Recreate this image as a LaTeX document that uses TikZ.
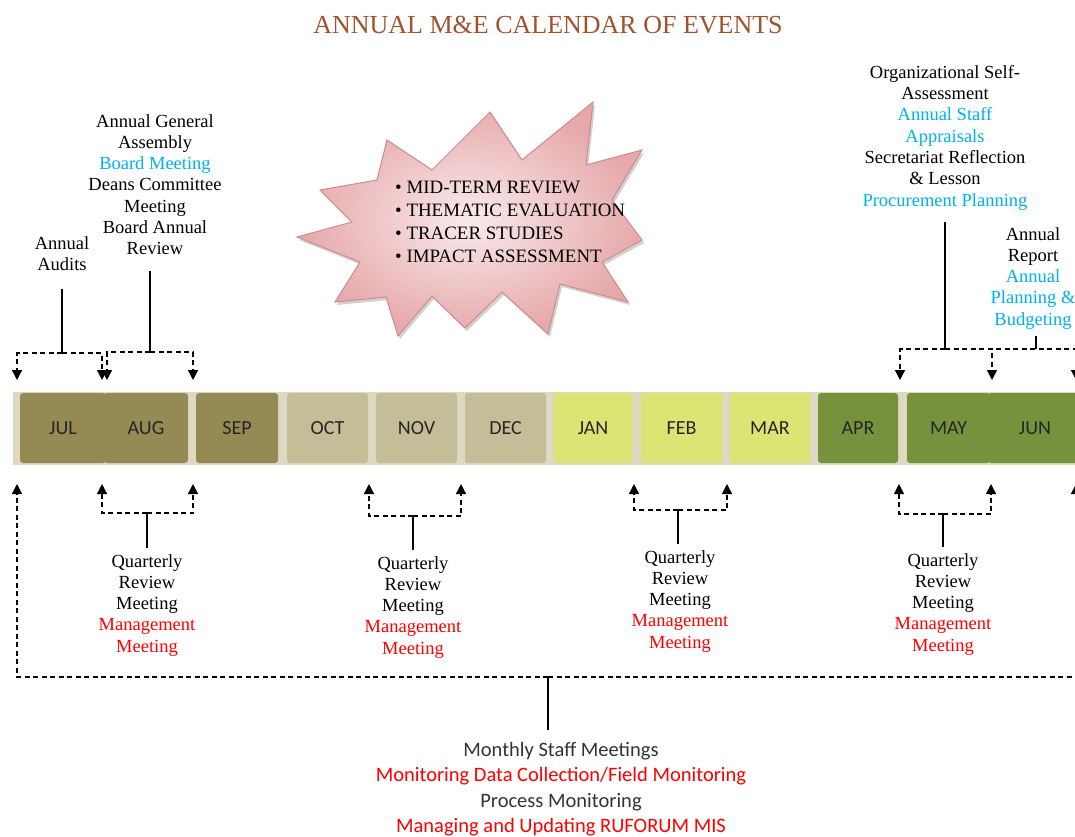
\documentclass[tikz,border=0pt]{standalone}
\usepackage{fontspec}
\setmainfont{Liberation Serif}
\newfontfamily\calfont{Carlito}
\usetikzlibrary{arrows.meta}

\definecolor{titlebrown}{HTML}{A0522D}
\definecolor{skyblue}{HTML}{00B0F0}
\definecolor{strip}{HTML}{DDD9C3}
\definecolor{qone}{HTML}{948A54}
\definecolor{qtwo}{HTML}{C4BD97}
\definecolor{qthree}{HTML}{DCE574}
\definecolor{qfour}{HTML}{76923C}
\definecolor{burstedge}{HTML}{D08A8C}
\definecolor{burstin}{HTML}{FAEAEB}
\definecolor{burstout}{HTML}{E6A9AB}

\tikzset{
  serif/.style={font=\fontsize{18.5}{21.3}\selectfont, align=center, inner sep=0pt, anchor=north},
  monthbox/.style={minimum height=70pt, rounded corners=3pt, inner sep=0pt,
    font=\calfont\fontsize{20}{24}\selectfont, text=black!85},
  dashline/.style={line width=1.3pt, dash pattern=on 5pt off 3.5pt},
  solidline/.style={line width=1.3pt},
  tipped/.style={-{Triangle[width=10pt,length=10pt]}},
}

\begin{document}
\begin{tikzpicture}[x=1pt, y=-1pt]
\useasboundingbox (0,0) rectangle (1075,836);
\clip (0,0) rectangle (1075,836);

% title
\node[font=\fontsize{26}{30}\selectfont, text=titlebrown, inner sep=0pt] (title) at (548,25) {ANNUAL M\&E CALENDAR OF EVENTS};

% starburst with the evaluation list (soft shadow, then the burst)
\def\burstpath{(297,237) -- (352,222) -- (320,190) -- (377,180) -- (387,140) -- (432,170)
  -- (490,112) -- (522,160) -- (593,102) -- (586,165) -- (642,150) -- (612,200)
  -- (642,240) -- (602,262) -- (628,302) -- (560,284) -- (548,334) -- (502,292)
  -- (465,328) -- (432,296) -- (398,336) -- (386,297) -- (335,302) -- (360,262) -- cycle}
\begin{scope}[shift={(2,3)}]
  \fill[black!18] \burstpath;
\end{scope}
\draw[burstedge, line width=1pt, shading=radial, inner color=burstin, outer color=burstout] \burstpath;
\node[font=\fontsize{18.9}{23}\selectfont, align=left, inner sep=0pt, anchor=north west] (evals) at (395,181)
  {\textbullet\ MID-TERM REVIEW\\ \textbullet\ THEMATIC EVALUATION\\ \textbullet\ TRACER STUDIES\\ \textbullet\ IMPACT ASSESSMENT};

% month strip
\fill[strip] (13,392) rectangle (1080,465);
\foreach \nm/\xa/\xb/\col/\lab in {
  jul/20/106/qone/JUL, aug/104/188/qone/AUG, sep/196/278/qone/SEP,
  oct/287/368/qtwo/OCT, nov/376/457/qtwo/NOV, dec/465/546/qtwo/DEC,
  jan/554/632/qthree/JAN, feb/641/722/qthree/FEB, mar/730/810/qthree/MAR,
  apr/818/898/qfour/APR, may/907/990/qfour/MAY, jun/988/1082/qfour/JUN}{
  \pgfmathsetmacro{\cx}{(\xa+\xb)/2}
  \pgfmathsetmacro{\bw}{\xb-\xa}
  \node[monthbox, fill=\col, minimum width=\bw pt] (\nm) at (\cx,428) {\lab};
}

% events above the strip
\node[serif] (audits) at (62,236) {Annual\\Audits};
\node[serif] (agm) at (155,114) {Annual General\\Assembly\\{\color{skyblue}Board Meeting}\\Deans Committee\\Meeting\\Board Annual\\Review};
\node[serif] (selfassess) at (945,65) {Organizational Self-\\Assessment\\{\color{skyblue}Annual Staff}\\{\color{skyblue}Appraisals}\\Secretariat Reflection\\\& Lesson\\{\color{skyblue}Procurement Planning}};
\node[serif] (report) at (1033,227) {Annual\\Report\\{\color{skyblue}Annual}\\{\color{skyblue}Planning \&}\\{\color{skyblue}Budgeting}};

\coordinate (audJ) at (62,353);
\coordinate (agmJ) at (150,352);
\coordinate (selfJ) at (945,349);
\coordinate (repJ) at (1036,349);
\coordinate (tJul) at (17,380);
\coordinate (tJulAug) at (102,380);
\coordinate (tAug) at (107,380);
\coordinate (tSep) at (193,380);
\coordinate (tMay) at (900,380);
\coordinate (tJun) at (992,380);
\coordinate (tEnd) at (1076,380);

\draw[solidline, shorten <=18pt] (audits.south -| audJ) -- (audJ);
\draw[dashline, tipped] (audJ) -| (tJul);
\draw[dashline, tipped] (audJ) -| (tJulAug);

\draw[solidline, shorten <=16pt] (agm.south -| agmJ) -- (agmJ);
\draw[dashline, tipped] (agmJ) -| (tAug);
\draw[dashline, tipped] (agmJ) -| (tSep);

\draw[solidline, shorten <=12pt] (selfassess.south -| selfJ) -- (selfJ);
\draw[dashline, tipped] (selfJ) -| (tMay);
\draw[dashline, tipped] (selfJ) -| (tJun);
\draw[dashline, tipped] (selfJ) -| (tEnd);
\draw[solidline, shorten <=7pt] (report.south -| repJ) -- (repJ);

% quarterly reviews below the strip
\foreach \nm/\jx/\jy/\lx/\rx/\tx/\ty in {
  qa/147/513/102/193/147/554, qb/413/516/369/461/413/556,
  qc/678/510/634/727/680/550, qd/943/514/899/991/943/553}{
  \node[serif] (\nm) at (\tx,\ty) {Quarterly\\Review\\Meeting\\{\color{red}Management}\\{\color{red}Meeting}};
  \coordinate (\nm J) at (\jx,\jy);
  \coordinate (\nm L) at (\lx,484);
  \coordinate (\nm R) at (\rx,484);
  \draw[dashline, tipped] (\nm J) -| (\nm L);
  \draw[dashline, tipped] (\nm J) -| (\nm R);
  \draw[solidline, shorten >=6pt] (\nm J) -- (\nm.north -| \nm J);
}

% monthly activities across the whole year
\node[font=\calfont\fontsize{20.5}{25.3}\selectfont, align=center, inner sep=0pt, anchor=north, text=black!80] (monthly) at (561,742)
  {Monthly Staff Meetings\\{\color{red}Monitoring Data Collection/Field Monitoring}\\Process Monitoring\\{\color{red}Managing and Updating RUFORUM MIS}};
\coordinate (allJ) at (548,677);
\coordinate (allL) at (17,484);
\coordinate (allR) at (1076,484);
\draw[dashline, tipped] (allJ) -| (allL);
\draw[dashline, tipped] (allJ) -| (allR);
\draw[solidline, shorten >=12pt] (allJ) -- (monthly.north -| allJ);
\end{tikzpicture}
\end{document}
